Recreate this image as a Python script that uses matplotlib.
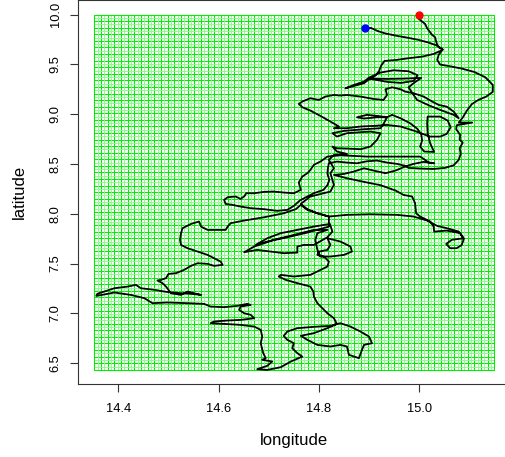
import numpy as np
import matplotlib
matplotlib.use("Agg")
import matplotlib.pyplot as plt

plt.rcParams['font.family'] = ['Liberation Sans', 'DejaVu Sans']

# grid extent (lon / lat) and number of cells
grid_lon = [14.352, 15.150]
grid_lat = [6.433, 10.0]
n_cols = 120
n_rows = 108

# start / end points
start_pt = (14.892, 9.863)
end_pt = (14.999, 9.997)

# track
track_lon = [
    14.892, 14.904, 14.917, 14.931, 14.953, 14.976, 14.999, 15.019, 15.034, 15.047,
    15.039, 15.036, 15.042, 15.062, 15.085, 15.110, 15.132, 15.147, 15.147, 15.134,
    15.118, 15.105, 15.095, 15.087, 15.079, 15.106, 15.075, 15.074, 15.082, 15.081,
    15.087, 15.081, 15.083, 15.079, 15.069, 15.052, 15.029, 15.002, 14.979, 14.970,
    14.956, 14.936, 14.916, 14.896, 14.876, 14.856, 14.836, 14.820,
    14.818, 14.817, 14.821, 14.817, 14.809, 14.790, 14.777, 14.762,
    14.750, 14.737, 14.717, 14.691, 14.664, 14.644, 14.628, 14.614, 14.611, 14.618,
    14.634, 14.644, 14.652, 14.655, 14.671, 14.691, 14.710, 14.730, 14.750, 14.764,
    14.760, 14.767, 14.777, 14.783, 14.790, 14.803, 14.817,
    14.843, 14.870, 14.896, 14.923, 14.949, 14.976, 15.002, 15.010, 15.019, 15.030,
    15.009, 14.989, 14.972, 14.953, 14.933, 14.909, 14.890, 14.870, 14.850, 14.830,
    14.856, 14.890, 14.923, 14.953, 14.969, 14.986, 14.992, 14.994, 15.002, 15.022,
    15.029, 15.030, 15.055, 15.082, 15.089, 15.085, 15.075, 15.062, 15.054, 15.065,
    15.089, 15.079, 15.055, 15.036, 15.016, 14.989, 14.956, 14.903, 14.856, 14.820,
    14.797, 14.777, 14.764,
    14.754, 14.730, 14.691, 14.651, 14.624, 14.618, 14.614, 14.578, 14.565, 14.561,
    14.545, 14.528, 14.525, 14.523, 14.525, 14.538, 14.558, 14.578, 14.591, 14.604,
    14.608, 14.591, 14.578, 14.558, 14.545, 14.531, 14.515, 14.500, 14.495, 14.485,
    14.478, 14.488, 14.495, 14.505, 14.525, 14.538, 14.551, 14.565,
    14.545, 14.525, 14.508, 14.495, 14.472, 14.445, 14.435, 14.419, 14.392, 14.372,
    14.358, 14.356, 14.364, 14.392, 14.425, 14.452, 14.468, 14.498, 14.538, 14.571,
    14.584, 14.611, 14.637, 14.657, 14.664, 14.644, 14.641, 14.651, 14.664, 14.671,
    14.644, 14.618, 14.591, 14.584, 14.611, 14.644, 14.671, 14.684,
    14.687, 14.684, 14.689, 14.694, 14.687, 14.707, 14.697, 14.677, 14.697, 14.724,
    14.744, 14.767, 14.757, 14.747, 14.750, 14.737, 14.730, 14.737, 14.757, 14.797,
    14.823, 14.843,
    14.863, 14.883, 14.900, 14.906, 14.890, 14.886, 14.880, 14.860, 14.856, 14.843,
    14.823, 14.797, 14.777, 14.764, 14.790, 14.817, 14.836,
    14.830, 14.817, 14.807, 14.797, 14.790, 14.789, 14.783, 14.757, 14.734, 14.720,
    14.724, 14.750, 14.783, 14.803, 14.817, 14.820, 14.810, 14.797, 14.800, 14.817,
    14.823,
    14.817, 14.843, 14.863, 14.866, 14.850, 14.823, 14.803, 14.797, 14.793, 14.797,
    14.817, 14.790, 14.764, 14.737, 14.710, 14.691, 14.671, 14.651, 14.677, 14.704,
    14.730, 14.757, 14.757, 14.770, 14.790, 14.817, 14.827, 14.822, 14.790, 14.757,
    14.724, 14.697, 14.674, 14.697, 14.737, 14.777, 14.820, 14.820,
    14.797, 14.777, 14.764, 14.783, 14.823, 14.830, 14.827, 14.823, 14.830, 14.820,
    14.830, 14.856, 14.836, 14.827, 14.836, 14.856, 14.883, 14.903, 14.916, 14.923,
    14.903, 14.883, 14.856, 14.836, 14.827, 14.850, 14.890, 14.923, 14.929, 14.936,
    14.916, 14.896, 14.876, 14.890, 14.916, 14.936, 14.946, 14.963, 14.982, 14.996,
    15.004, 15.006, 15.002, 15.010, 15.030, 15.022, 15.017, 15.016, 15.017, 15.042,
    15.057, 15.063, 15.055, 15.042, 15.022, 14.989, 14.963, 14.936, 14.909, 14.883,
    14.856, 14.830,
    14.840, 14.823, 14.803, 14.783, 14.767, 14.760, 14.767, 14.783, 14.800, 14.813,
    14.830, 14.843, 14.856, 14.883, 14.909, 14.929, 14.936, 14.933, 14.946, 14.963,
    14.972, 14.989, 15.009, 15.026, 15.039, 15.055, 15.069, 15.079, 15.069, 15.042,
    15.022, 14.996, 14.989, 14.979, 14.989, 15.004, 14.969, 14.936, 14.902, 14.890,
    14.870, 14.853, 14.870, 14.890, 14.900, 14.923, 14.949, 14.979, 14.997, 14.989,
    14.964, 14.937, 14.915, 14.902, 14.912, 14.920, 14.924, 14.931, 14.955, 14.979,
    15.006, 15.029, 15.047,
    15.037, 15.034, 15.032, 15.026, 15.021, 15.016, 15.012, 15.006, 14.998, 14.999,
]
track_lat = [
    9.863, 9.866, 9.836, 9.813, 9.789, 9.769, 9.746, 9.719, 9.692, 9.652,
    9.595, 9.545, 9.498, 9.481, 9.458, 9.424, 9.371, 9.294, 9.224, 9.177,
    9.143, 9.100, 9.033, 8.966, 8.916, 8.916, 8.889, 8.849, 8.792, 8.742,
    8.715, 8.658, 8.601, 8.541, 8.487, 8.461, 8.450, 8.454, 8.461, 8.484,
    8.501, 8.514, 8.534, 8.527, 8.507, 8.514, 8.524, 8.507,
    8.457, 8.400, 8.340, 8.287, 8.240, 8.206, 8.173, 8.133,
    8.079, 8.039, 8.029, 8.046, 8.056, 8.072, 8.089, 8.099, 8.139, 8.166,
    8.173, 8.149, 8.179, 8.206, 8.206, 8.220, 8.223, 8.213, 8.206, 8.240,
    8.313, 8.374, 8.407, 8.440, 8.491, 8.524, 8.574,
    8.588, 8.581, 8.574, 8.574, 8.574, 8.574, 8.574, 8.548, 8.514, 8.507,
    8.521, 8.501, 8.474, 8.434, 8.407, 8.434, 8.457, 8.424, 8.400, 8.390,
    8.357, 8.320, 8.287, 8.233, 8.189, 8.173, 8.106, 8.005, 7.972, 7.922,
    7.871, 7.821, 7.831, 7.805, 7.744, 7.687, 7.654, 7.654, 7.697, 7.738,
    7.754, 7.821, 7.855, 7.878, 7.932, 7.972, 7.989, 7.995, 7.989, 7.972,
    8.005, 8.039, 8.089,
    8.046, 8.005, 7.965, 7.932, 7.905, 7.871, 7.838, 7.838, 7.871, 7.922,
    7.898, 7.855, 7.805, 7.738, 7.687, 7.654, 7.620, 7.587, 7.554, 7.520,
    7.487, 7.477, 7.497, 7.503, 7.477, 7.436, 7.403, 7.396, 7.353, 7.336,
    7.330, 7.303, 7.269, 7.202, 7.185, 7.219, 7.202, 7.185,
    7.196, 7.202, 7.209, 7.216, 7.236, 7.252, 7.286, 7.269, 7.252, 7.219,
    7.196, 7.175, 7.182, 7.209, 7.185, 7.152, 7.102, 7.109, 7.102, 7.095,
    7.068, 7.062, 7.075, 7.095, 7.085, 7.068, 7.035, 7.001, 6.985, 6.951,
    6.934, 6.928, 6.918, 6.901, 6.894, 6.884, 6.867, 6.834,
    6.767, 6.700, 6.600, 6.550, 6.533, 6.516, 6.473, 6.439, 6.432, 6.459,
    6.516, 6.566, 6.600, 6.650, 6.700, 6.734, 6.774, 6.817, 6.851, 6.867,
    6.874, 6.901,
    6.867, 6.817, 6.767, 6.700, 6.683, 6.633, 6.550, 6.583, 6.667, 6.683,
    6.667, 6.683, 6.734, 6.774, 6.801, 6.851, 6.894,
    6.951, 7.001, 7.052, 7.102, 7.169, 7.219, 7.269, 7.303, 7.336, 7.370,
    7.386, 7.370, 7.386, 7.436, 7.470, 7.520, 7.570, 7.587, 7.620, 7.637,
    7.687,
    7.754, 7.721, 7.671, 7.620, 7.587, 7.570, 7.570, 7.637, 7.738, 7.805,
    7.838, 7.838, 7.805, 7.771, 7.738, 7.704, 7.671, 7.614, 7.637, 7.620,
    7.604, 7.610, 7.671, 7.687, 7.687, 7.764, 7.821, 7.898, 7.871, 7.838,
    7.805, 7.754, 7.687, 7.721, 7.764, 7.811, 7.871, 7.972,
    8.005, 8.046, 8.099, 8.173, 8.223, 8.290, 8.340, 8.407, 8.457, 8.541,
    8.591, 8.601, 8.625, 8.675, 8.658, 8.655, 8.648, 8.675, 8.742, 8.809,
    8.825, 8.819, 8.809, 8.775, 8.809, 8.832, 8.849, 8.859, 8.902, 8.969,
    8.983, 8.993, 8.969, 8.956, 8.969, 8.969, 8.993, 8.959, 8.909, 8.855,
    8.802, 8.735, 8.675, 8.625, 8.621, 8.708, 8.809, 8.909, 8.976, 8.976,
    8.936, 8.869, 8.802, 8.775, 8.775, 8.835, 8.876, 8.892, 8.882, 8.876,
    8.859, 8.859,
    8.876, 8.926, 8.983, 9.036, 9.070, 9.103, 9.127, 9.160, 9.143, 9.177,
    9.193, 9.187, 9.193, 9.177, 9.153, 9.143, 9.193, 9.250, 9.270, 9.250,
    9.227, 9.210, 9.177, 9.127, 9.093, 9.076, 9.026, 8.959, 8.993, 9.043,
    9.083, 9.143, 9.193, 9.270, 9.311, 9.364, 9.357, 9.354, 9.357, 9.311,
    9.284, 9.260, 9.294, 9.327, 9.367, 9.418, 9.441, 9.431, 9.391, 9.334,
    9.314, 9.324, 9.344, 9.357, 9.384, 9.431, 9.485, 9.535, 9.545, 9.562,
    9.578, 9.605, 9.645,
    9.685, 9.729, 9.772, 9.796, 9.829, 9.863, 9.906, 9.930, 9.963, 9.997,
]

fig = plt.figure(figsize=(5.05, 4.57), dpi=100)
ax = fig.add_axes([78.3 / 505, 73 / 457, 432 / 505, 383.6 / 457])

# green cell grid: every other line drawn strong, the others faint
xs = np.linspace(grid_lon[0], grid_lon[1], n_cols + 1)
ys = np.linspace(grid_lat[0], grid_lat[1], n_rows + 1)
ax.vlines(xs[::2], grid_lat[0], grid_lat[1], colors='#00ee00', linewidth=0.75)
ax.hlines(ys[::2], grid_lon[0], grid_lon[1], colors='#00ee00', linewidth=0.75)
ax.vlines(xs[1::2], grid_lat[0], grid_lat[1], colors='#7dff7d', linewidth=0.6)
ax.hlines(ys[1::2], grid_lon[0], grid_lon[1], colors='#7dff7d', linewidth=0.6)
ax.vlines(grid_lon, grid_lat[0], grid_lat[1], colors='#00ee00', linewidth=0.75)
ax.hlines(grid_lat, grid_lon[0], grid_lon[1], colors='#00ee00', linewidth=0.75)

ax.plot(track_lon, track_lat, color='black', linewidth=1.3,
        solid_joinstyle='round', zorder=3)
ax.plot(*start_pt, 'o', color='#0000ff', markersize=5, zorder=4)
ax.plot(*end_pt, 'o', color='#ff0000', markersize=5, zorder=4)

# R style limits (4% padding)
dx = 0.04 * (grid_lon[1] - grid_lon[0])
dy = 0.04 * (grid_lat[1] - grid_lat[0])
ax.set_xlim(grid_lon[0] - dx, grid_lon[1] + dx)
ax.set_ylim(grid_lat[0] - dy, grid_lat[1] + dy)

xt = [14.4, 14.6, 14.8, 15.0]
yt = [6.5, 7.0, 7.5, 8.0, 8.5, 9.0, 9.5, 10.0]
ax.set_xticks(xt)
ax.set_xticklabels(['%.1f' % v for v in xt], fontsize=9.3)
ax.set_yticks(yt)
ax.set_yticklabels(['%.1f' % v for v in yt], fontsize=9.3,
                   rotation=90, va='center')
ax.tick_params(length=6, width=0.8, color='#333333')
ax.tick_params(axis='x', pad=8)
ax.tick_params(axis='y', pad=6)
for s in ax.spines.values():
    s.set_linewidth(0.8)
    s.set_color('#333333')

ax.set_xlabel('longitude', fontsize=12, labelpad=13)
ax.set_ylabel('latitude', fontsize=12)
ax.yaxis.set_label_coords(-0.118, 0.5)

fig.savefig('out.png', dpi=100)
